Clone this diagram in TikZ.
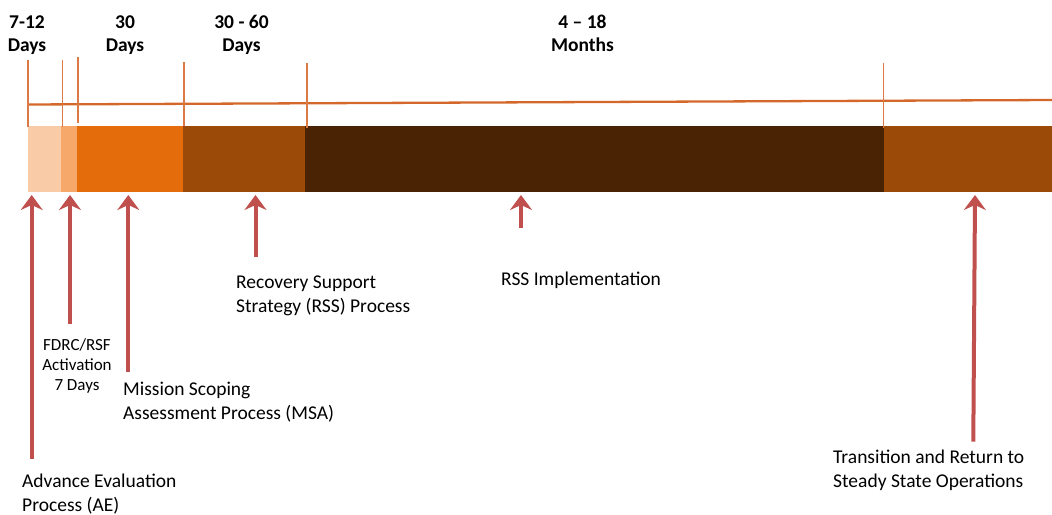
\documentclass[tikz,border=0pt]{standalone}
\usepackage{fontspec}
\setmainfont{Carlito}
\usetikzlibrary{arrows.meta}
\definecolor{peach}{HTML}{F9CBA6}
\definecolor{apricot}{HTML}{F5A86A}
\definecolor{pumpkin}{HTML}{E46C0A}
\definecolor{rust}{HTML}{9C4A08}
\definecolor{umber}{HTML}{4A2305}
\definecolor{lineorange}{HTML}{D4682A}
\definecolor{tickorange}{HTML}{DC7A45}
\definecolor{arrowred}{HTML}{C0504D}
\begin{document}
\begin{tikzpicture}[x=1pt,y=-1pt,
    seg/.style={inner sep=0pt, outer sep=0pt, minimum height=66.5pt, anchor=north west},
    tickline/.style={draw=tickorange, line width=1.8pt},
    riser/.style={draw=arrowred, line width=4pt, -{Stealth[length=15pt,width=22pt,inset=5pt]}},
    lbl/.style={inner sep=0pt, align=left, anchor=base west, font=\fontsize{19.5}{24}\selectfont},
    hdr/.style={inner sep=0pt, align=center, anchor=base, font=\bfseries\fontsize{19.5}{23}\selectfont}]
  \useasboundingbox (0,0) rectangle (1052,514);
  % timeline bar
  \node[seg, fill=peach, minimum width=33.5pt] (ae) at (27.7,125.5) {};
  \node[seg, fill=apricot, minimum width=15.5pt] (fdrc) at (ae.north east) {};
  \node[seg, fill=pumpkin, minimum width=106pt] (msa) at (fdrc.north east) {};
  \node[seg, fill=rust, minimum width=122.6pt] (rsp) at (msa.north east) {};
  \node[seg, fill=umber, minimum width=579pt] (rsi) at (rsp.north east) {};
  \node[seg, fill=rust, minimum width=167.7pt] (tso) at (rsi.north east) {};
  % axis and ticks
  \draw[draw=lineorange, line width=2.3pt] (27.7,104.5) -- (1052,100);
  \draw[tickline] (27.7,60) -- (27.7,126.7);
  \draw[tickline] (62.5,60) -- (62.5,127);
  \draw[tickline] (78.3,57) -- (78.3,123);
  \draw[tickline] (183.7,62) -- (183.7,126);
  \draw[tickline] (306.7,63) -- (306.7,128);
  \draw[tickline] (883.5,63) -- (883.5,128);
  % durations (base = last line)
  \node[hdr] (d1) at (27,51) {7-12\\Days};
  \node[hdr] (d2) at (125,51) {30\\Days};
  \node[hdr] (d3) at (241.5,51) {30 - 60\\Days};
  \node[hdr] (d4) at (582.5,51) {4 -- 18\\Months};
  % labels
  \node[lbl] (aeLbl) at (22,511) {Advance Evaluation\\Process (AE)};
  \node[lbl, align=center, anchor=base, font=\fontsize{17}{19.8}\selectfont] (fdrcLbl) at (77,390) {FDRC/RSF\\Activation\\7 Days};
  \node[lbl] (msaLbl) at (123,419) {Mission Scoping\\Assessment Process (MSA)};
  \node[lbl] (rspLbl) at (236,312.7) {Recovery Support\\Strategy (RSS) Process};
  \node[lbl] (rsiLbl) at (501,285) {RSS Implementation};
  \node[lbl] (tsoLbl) at (833,487) {Transition and Return to\\Steady State Operations};
  % arrows
  \coordinate (aeTail) at (31.7,459);   \coordinate (aeTip) at (31.7,195);
  \coordinate (fdrcTail) at (70,324);   \coordinate (fdrcTip) at (70,195);
  \coordinate (msaTail) at (128.3,371.7); \coordinate (msaTip) at (128.3,195);
  \coordinate (rspTail) at (255.5,257); \coordinate (rspTip) at (255.5,195);
  \coordinate (rsiTail) at (521,228);   \coordinate (rsiTip) at (521,195);
  \coordinate (tsoTail) at (973.3,441.7); \coordinate (tsoTip) at (975,195);
  \draw[riser] (aeTail) -- (aeTip);
  \draw[riser] (fdrcTail) -- (fdrcTip);
  \draw[riser] (msaTail) -- (msaTip);
  \draw[riser] (rspTail) -- (rspTip);
  \draw[riser] (rsiTail) -- (rsiTip);
  \draw[riser] (tsoTail) -- (tsoTip);
\end{tikzpicture}
\end{document}
